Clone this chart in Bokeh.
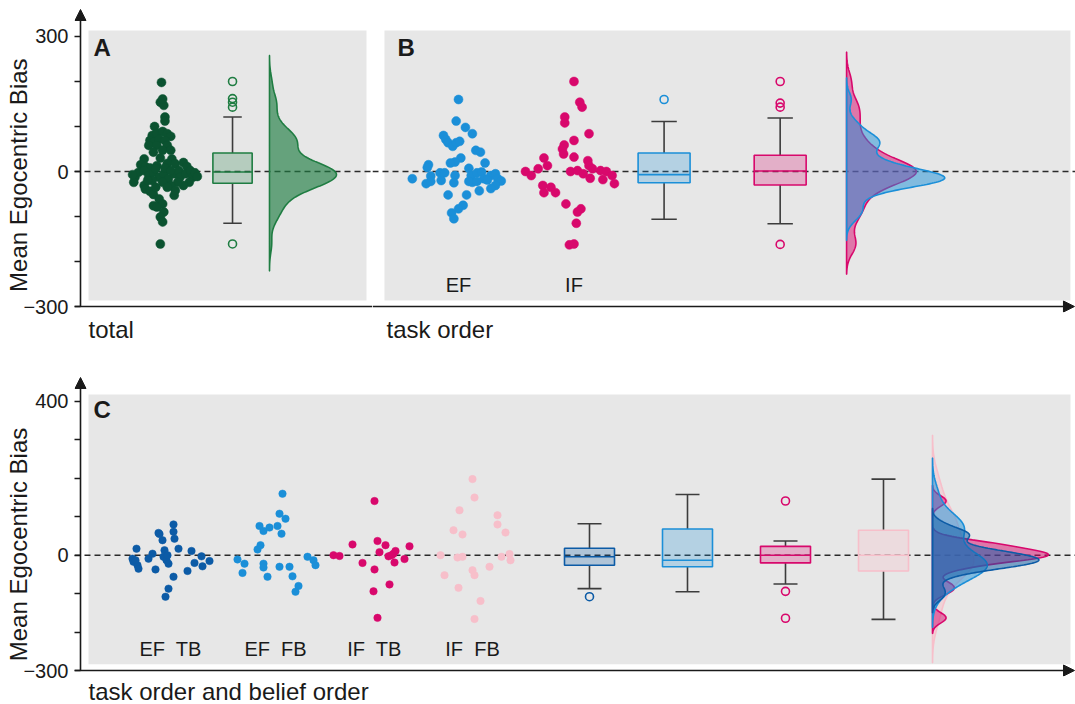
import numpy as np
from bokeh.plotting import figure
from bokeh.layouts import column, row
from bokeh.models import BoxAnnotation, Span, Arrow, NormalHead, FixedTicker, Title, Range1d
from bokeh.core.properties import value
from bokeh.embed import file_html
from bokeh.resources import INLINE

FONT = "Liberation Sans"

# ---------------- data ----------------
total_vals = [198, 154, 147, 161, 121, 112, 100, 80, 85, 89, 84, 78, 69, 65, 72, 69, 58, 58, 58, 47,
              43, 47, 28, 28, 30, 15, 11, 8, 13, 18, 17, 20, 11, -13, -24, -2, 2, -9, -2, -13,
              -5, -16, -5, 2, -13, -5, 2, -13, -24, -31, -24, -31, -24, -20, -31, -53, -39, -44, -51, -61,
              -76, -72, -79, -90, -101, -112, -161, -7, -3, -11, 8, 2, 6, -20, -42, -35, -35]
total_jit = [0.00, -0.01, 0.02, 0.01, 0.03, 0.03, -0.06, -0.08, -0.04, 0.01, 0.05, 0.08, -0.10, -0.07, -0.02,
             0.03, -0.11, -0.04, 0.05, 0.01, -0.07, 0.08, 0.09, -0.15, -0.01, -0.18, -0.14, -0.10, -0.04, 0.05,
             0.12, 0.19, 0.22, -0.23, -0.24, -0.20, -0.15, -0.11, -0.07, -0.02, 0.02, 0.06, 0.11, 0.15, 0.16,
             0.21, 0.25, 0.27, 0.24, 0.19, 0.14, 0.08, 0.01, -0.08, -0.15, 0.11, -0.14, -0.10, -0.07, -0.02,
             -0.07, 0.01, -0.04, 0.02, -0.01, 0.01, -0.01, -0.25, 0.29, 0.31, 0.03, 0.08, -0.05, -0.12, 0.12,
             0.05, -0.05]

ef_vals = [160, 112, 98, 84, 80, 71, 64, 56, 64, 67, 47, 43, 30, 21, 19, 15, 9, 19, 7, -3,
           -3, -16, -10, -27, -22, -20, -9, -25, -9, -24, -3, -1, -16, -9, -19, -5, -16, -21, -31, -38,
           -43, -52, -52, -75, -83, -92, -105, -22, -22]
ef_jit = [0.00, -0.02, 0.06, 0.12, -0.13, -0.11, -0.09, -0.05, -0.02, 0.01, 0.15, 0.19, 0.02, -0.03, -0.07,
          -0.26, -0.27, 0.23, 0.09, -0.16, -0.12, -0.40, -0.24, -0.28, -0.24, -0.15, -0.03, -0.04, 0.11, 0.12,
          0.16, 0.20, 0.22, 0.28, 0.25, 0.32, 0.34, 0.37, 0.32, 0.28, 0.18, -0.09, 0.07, 0.04, 0.00,
          -0.06, -0.04, 0.09, 0.16]
if_vals = [200, 154, 143, 121, 108, 84, 69, 59, 50, 39, 30, 32, 13, 24, 6, 0, -9, 0, 2, -5,
           13, 6, -15, 2, 0, -18, -9, -27, -31, -35, -47, -47, -72, -83, -90, -115, -163, -161]
if_jit = [0.00, 0.05, 0.07, -0.08, -0.08, 0.13, 0.00, -0.085, -0.10, -0.09, -0.26, 0.00, -0.23, 0.12, -0.31,
          -0.42, -0.37, -0.03, 0.03, 0.08, 0.13, 0.16, 0.14, 0.23, 0.28, 0.25, 0.33, 0.35, -0.27, -0.20,
          -0.26, -0.16, -0.07, 0.06, 0.03, 0.02, -0.04, 0.00]

eftb_vals = [-9, 17, -17, -26, -35, -13, -9, 4, -37, 58, 39, 13, -4, -13, -22, 61, 43, 80, 17, -56,
             -87, -108, -41, 11, -20, -3, -29, -15, 0, 55]
eftb_jit = [-0.38, -0.34, -0.37, -0.33, -0.32, -0.35, -0.22, -0.18, -0.15, -0.12, -0.08, -0.06, -0.07, -0.04,
            -0.02, 0.03, 0.04, 0.03, 0.08, 0.03, -0.02, -0.05, 0.17, 0.21, 0.24, 0.31, 0.32, 0.39, -0.03, -0.11]
effb_vals = [-11, -22, -46, 15, 26, 76, 63, 72, -22, -32, -56, 76, 108, 95, 56, 160, -30, -30, -55, -95,
             -80, -4, -13, -26]
effb_jit = [-0.38, -0.31, -0.33, -0.18, -0.15, -0.16, -0.12, -0.06, -0.12, -0.12, -0.08, 0.02, 0.04, 0.10,
            0.06, 0.07, 0.04, 0.14, 0.17, 0.20, 0.23, 0.32, 0.38, 0.40]
iftb_vals = [0, -2, 28, -20, 141, -37, -94, -163, 37, 8, 26, -3, -76, 4, -19, 11, -10, 23, 0]
iftb_jit = [-0.41, -0.35, -0.22, -0.12, 0.00, 0.00, -0.01, 0.03, 0.03, 0.05, 0.11, 0.14, 0.15, 0.19, 0.20,
            0.21, 0.30, 0.35, 0.17]
iffb_vals = [0, -52, 65, 117, 54, -6, -4, -85, 198, 150, -39, -52, -119, -166, -30, 104, 80, 59, -4, 3, -13]
iffb_jit = [-0.32, -0.28, -0.19, -0.13, -0.10, -0.15, -0.10, -0.14, 0.00, 0.02, 0.00, 0.02, 0.08, 0.02,
            0.17, 0.25, 0.25, 0.33, 0.29, 0.37, 0.38]

# box statistics: [lower whisker, Q1, median, Q3, upper whisker] and outliers
box_total = [-115, -26, -1, 41, 121]
out_total = [200, 162, 154, 143, -161]
box_ef = [-106, -25, -7, 41, 111]
out_ef = [160]
box_if = [-116, -30, 1, 36, 119]
out_if = [200, 152, 143, -162]
box_eftb = [-87, -26, -4, 18, 82]
out_eftb = [-108]
box_effb = [-95, -30, -13, 68, 158]
out_effb = []
box_iftb = [-75, -20, 0, 23, 37]
out_iftb = [141, -94, -164]
box_iffb = [-167, -41, 0, 65, 198]
out_iffb = []

b_labels = ["EF", "IF"]
c_labels = ["EF\u00a0 TB", "EF\u00a0 FB", "IF\u00a0 TB", "IF\u00a0 FB"]
top_ticks = [-300, -200, -100, 0, 100, 200, 300]
top_labels = {-300: "\u2212300", 0: "0", 300: "300"}
bot_ticks = [-300, -200, -100, 0, 100, 200, 300, 400]
bot_labels = {-300: "\u2212300", 0: "0", 400: "400"}

# ---------------- styles ----------------
GREEN_PT = "#0b5230"
GREEN = "#1f7d42"
BLUE = "#1b8fd8"
PINK = "#d8086c"
DBLUE = "#0c5ba6"
LPINK = "#f7bfca"
BG = "#e7e7e7"
AXIS = "#1a1a1a"
WHISK = "#3c3c3c"

# layout constants (x positions in axis units)
A_PTS, A_BOX, A_VIO = 1.0, 1.615, 1.935
B_PTS = [1.0, 2.0]
B_BOX = [2.78, 3.785]
B_VIO = 4.36
C_PTS = [1.0, 2.05, 3.04, 4.02]
C_BOX = [5.19, 6.17, 7.15, 8.13]
C_VIO = 8.62


def kde(vals, n=300):
    v = np.asarray(vals, float)
    sd = v.std(ddof=1)
    q75, q25 = np.percentile(v, [75, 25])
    bw = 0.9 * min(sd, (q75 - q25) / 1.34) * len(v) ** -0.2
    grid = np.linspace(v.min() - 3 * bw, v.max() + 3 * bw, n)
    dens = np.exp(-0.5 * ((grid[:, None] - v[None, :]) / bw) ** 2).sum(1) / (len(v) * bw * np.sqrt(2 * np.pi))
    return grid, dens


def style_common(p):
    p.background_fill_color = "white"
    p.border_fill_color = "white"
    p.outline_line_color = None
    p.grid.visible = False


def style_yaxis(p, ticks, labels, pad):
    ya = p.yaxis[0]
    ya.ticker = FixedTicker(ticks=ticks)
    ya.major_label_overrides = {t: labels.get(t, "") for t in ticks}
    ya.major_tick_out = 0
    ya.major_tick_in = 6
    ya.minor_tick_line_color = None
    ya.major_tick_line_color = AXIS
    ya.major_tick_line_width = 1.4
    ya.axis_line_color = None
    ya.major_label_standoff = 6
    ya.major_label_text_font = FONT
    ya.major_label_text_font_size = "20px"
    ya.major_label_text_color = AXIS
    ya.axis_label = "Mean Egocentric Bias" + "\u00a0" * pad
    ya.axis_label_text_font = FONT
    ya.axis_label_text_font_size = "24px"
    ya.axis_label_text_font_style = "normal"
    ya.axis_label_text_color = AXIS
    ya.axis_label_standoff = -12


def add_bg(p, left, right, bottom, top):
    p.add_layout(BoxAnnotation(left=left, right=right, bottom=bottom, top=top,
                               fill_color=BG, fill_alpha=1.0, line_color=None, level="underlay"))
    p.add_layout(Span(location=0, dimension="width", line_color="#2a2a2a", line_width=1.6,
                      line_dash="6 4", level="underlay"))


def points(p, center, vals, jit, color, size):
    xs = [center + j for j in jit]
    p.scatter(xs, vals, size=size, fill_color=color, line_color=color, line_width=0.5)


def boxplot(p, x, stats, outl, color, width, capw, alpha=0.25):
    lo, q1, med, q3, hi = stats
    p.segment(x0=[x, x], y0=[q3, q1], x1=[x, x], y1=[hi, lo], line_color=WHISK, line_width=1.6)
    p.segment(x0=[x - capw / 2] * 2, y0=[hi, lo], x1=[x + capw / 2] * 2, y1=[hi, lo],
              line_color=WHISK, line_width=1.6)
    p.quad(left=[x - width / 2], right=[x + width / 2], bottom=[q1], top=[q3],
           fill_color=color, fill_alpha=alpha, line_color=color, line_width=1.6)
    p.segment(x0=[x - width / 2], y0=[med], x1=[x + width / 2], y1=[med], line_color=color, line_width=1.6)
    if outl:
        p.scatter([x] * len(outl), outl, marker="circle", size=8, fill_color=None,
                  line_color=color, line_width=1.6)


def violins(p, base, groups, maxw, alpha):
    kd = [kde(v) for v, _ in groups]
    k = maxw / max(d.max() for _, d in kd)
    for (g, d), (_, color) in zip(kd, groups):
        xs = np.concatenate([[base], base + d * k, [base]])
        ys = np.concatenate([[g[0]], g, [g[-1]]])
        p.patch(xs, ys, fill_color=color, fill_alpha=alpha, line_color=color, line_width=1.6)


def letter(p, x, y, t):
    p.text(x=[x], y=[y], text=[t], text_font=value(FONT), text_font_size="24px", text_font_style="bold",
           text_color=AXIS, text_align="left", text_baseline="top")


def bottom_title(p, t, off, standoff):
    p.add_layout(Title(text=t, align="left", offset=off, standoff=standoff, text_font=FONT,
                       text_font_size="24px", text_font_style="normal", text_color=AXIS), "below")


def axis_arrow(p, x0, y0, x1, y1, with_head=True):
    head = NormalHead(size=11, fill_color=AXIS, line_color=AXIS, line_width=1) if with_head else None
    p.add_layout(Arrow(end=head, x_start=x0, y_start=y0, x_end=x1, y_end=y1,
                       line_color=AXIS, line_width=1.6))


# ---------------- top row ----------------
yr_top = Range1d(-313.3, 371.1)

pA = figure(width=372, height=350, x_range=Range1d(0.2468, 2.8268), y_range=yr_top,
            output_backend="svg", toolbar_location=None, x_axis_location=None,
            min_border_left=74, min_border_right=0, min_border_top=4, min_border_bottom=38)
style_common(pA)
style_yaxis(pA, top_ticks, top_labels, 5)
add_bg(pA, 0.368, 2.775, -286.7, 313.3)
points(pA, A_PTS, total_vals, total_jit, GREEN_PT, 9)
boxplot(pA, A_BOX, box_total, out_total, GREEN, 0.34, 0.16, alpha=0.25)
violins(pA, A_VIO, [(total_vals, GREEN)], 0.58, 0.65)
letter(pA, 0.411, 306, "A")
bottom_title(pA, "total", 14, 3)
pA.add_layout(Span(location=-300, dimension="width", line_color=AXIS, line_width=1.6))
axis_arrow(pA, 0.2987, -300, 0.2987, 360)

pB = figure(width=703, height=350, x_range=Range1d(0.2554, 6.342), y_range=yr_top,
            output_backend="svg", toolbar_location=None, y_axis_location=None, x_axis_location=None,
            min_border_left=0, min_border_right=0, min_border_top=4, min_border_bottom=38)
style_common(pB)
add_bg(pB, 0.359, 6.298, -286.7, 313.3)
points(pB, B_PTS[0], ef_vals, ef_jit, BLUE, 9)
points(pB, B_PTS[1], if_vals, if_jit, PINK, 9)
boxplot(pB, B_BOX[0], box_ef, out_ef, BLUE, 0.45, 0.22)
boxplot(pB, B_BOX[1], box_if, out_if, PINK, 0.45, 0.22)
violins(pB, B_VIO, [(if_vals, PINK), (ef_vals, BLUE)], 0.85, 0.5)
pB.text(x=B_PTS, y=[-253] * 2, text=b_labels, text_font=value(FONT), text_font_size="20px",
        text_color=AXIS, text_align="center", text_baseline="middle")
letter(pB, 0.472, 306, "B")
bottom_title(pB, "task order", 14, 3)
axis_arrow(pB, 0.2554, -300, 6.333, -300)

# ---------------- bottom row ----------------
pC = figure(width=1075, height=354, x_range=Range1d(0.04, 10.05), y_range=Range1d(-315.6, 475.4),
            output_backend="svg", toolbar_location=None, x_axis_location=None,
            min_border_left=74, min_border_right=0, min_border_top=22, min_border_bottom=28)
style_common(pC)
style_yaxis(pC, bot_ticks, bot_labels, 6)
add_bg(pC, 0.18, 10.0, -284, 418.2)
c_sets = [(eftb_vals, eftb_jit, box_eftb, out_eftb, DBLUE),
          (effb_vals, effb_jit, box_effb, out_effb, BLUE),
          (iftb_vals, iftb_jit, box_iftb, out_iftb, PINK),
          (iffb_vals, iffb_jit, box_iffb, out_iffb, LPINK)]
for i, (v, j, b, o, c) in enumerate(c_sets):
    points(pC, C_PTS[i], v, j, c, 7.5)
    boxplot(pC, C_BOX[i], b, o, c, 0.5, 0.24, alpha=0.25 if i < 3 else 0.3)
violins(pC, C_VIO, [(iffb_vals, LPINK), (iftb_vals, PINK), (effb_vals, BLUE), (eftb_vals, DBLUE)], 1.16, 0.5)
pC.text(x=C_PTS, y=[-245] * 4, text=c_labels, text_font=value(FONT), text_font_size="20px",
        text_color=AXIS, text_align="center", text_baseline="middle")
letter(pC, 0.23, 413, "C")
bottom_title(pC, "task order and belief order", 14, -2)
axis_arrow(pC, 0.04, -300, 10.04, -300)
axis_arrow(pC, 0.1, -300, 0.1, 462.4)

layout = column(row(pA, pB), pC)
open("out.html", "w").write(file_html(layout, INLINE))
